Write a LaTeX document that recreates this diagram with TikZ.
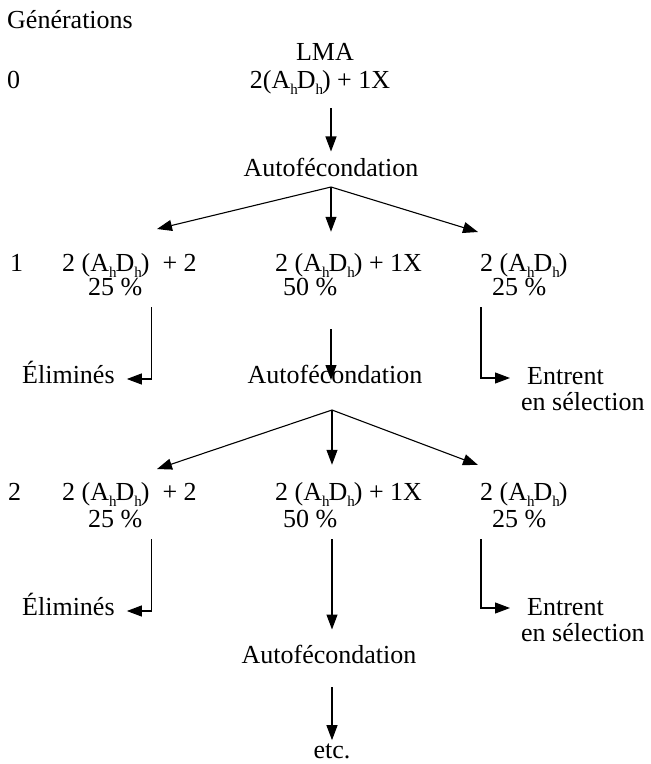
\documentclass[tikz,border=0pt]{standalone}
\usepackage{fontspec}
\setmainfont{Liberation Serif}
\usetikzlibrary{positioning,arrows.meta}
\newcommand{\hs}{\raisebox{-6pt}{\fontsize{15}{15}\selectfont h}\kern-1pt}

\begin{document}
\begin{tikzpicture}[
      x=1pt, y=-1pt,
      lbl/.style={inner sep=0pt, font=\fontsize{26}{26}\selectfont},
      arr/.style={-{Triangle[length=15pt,width=11pt]}, line width=1.1pt}
    ]
    \useasboundingbox (0,0) rectangle (651,764);

    % --- generation 0 ---
    \node[lbl, anchor=base west] (gen) at (7,28) {Générations};
    \node[lbl, anchor=base] (lma) at (325,60) {LMA};
    \node[lbl, anchor=base west] (g0) at (7,88) {0};
    \node[lbl, anchor=base] (p0) at (320,88) {2(A\hs D\hs) + 1X};
    \node[lbl, anchor=base] (auto1) at (331,176) {Autofécondation};
    \coordinate (fork1) at ([yshift=-11pt]auto1.base);

    % --- generation 1 ---
    \node[lbl, anchor=base west] (g1) at (10,271) {1};
    \node[lbl, anchor=base west] (l1) at (62,271) {2 (A\hs D\hs)\ \ + 2};
    \node[lbl, anchor=base west] (m1) at (275,271) {2 (A\hs D\hs) + 1X};
    \node[lbl, anchor=base west] (r1) at (480,271) {2 (A\hs D\hs)};
    \node[lbl, anchor=base west] (pl1) at (88,295) {25 \%};
    \node[lbl, anchor=base west] (pm1) at (283,295) {50 \%};
    \node[lbl, anchor=base west] (pr1) at (492,295) {25 \%};
    \node[lbl, anchor=base west] (el1) at (22,383) {Éliminés};
    \node[lbl, anchor=base] (auto2) at (335,383) {Autofécondation};
    \node[lbl, anchor=base west] (en1) at (527,384) {Entrent};
    \node[lbl, anchor=base west] (sel1) at ([xshift=-6pt,yshift=-26pt]en1.base west) {en sélection};
    \coordinate (fork2) at ([xshift=-3pt,yshift=-27pt]auto2.base);

    \draw[arr, shorten <=14pt, shorten >=6pt] (p0.south -| auto1) -- (auto1.north);
    \draw[arr] (fork1) -- ([xshift=95pt,yshift=42pt]l1.base west);
    \draw[arr, shorten >=21pt] (fork1) -- (fork1 |- m1.north);
    \draw[arr] (fork1) -- ([xshift=-2pt,yshift=39pt]r1.base west);
    \draw[arr] ([xshift=9pt,yshift=-12pt]pl1.base east) |- ([xshift=12pt,yshift=4pt]el1.base east);
    \draw[arr, shorten <=34pt, shorten >=3pt] (pm1.base -| fork1) -- (auto2.base -| fork1);
    \draw[arr] ([xshift=-11pt,yshift=-12pt]pr1.base west) |- ([xshift=-17pt,yshift=6pt]en1.base west);

    % --- generation 2 ---
    \node[lbl, anchor=base west] (g2) at (8,500) {2};
    \node[lbl, anchor=base west] (l2) at (62,500) {2 (A\hs D\hs)\ \ + 2};
    \node[lbl, anchor=base west] (m2) at (275,500) {2 (A\hs D\hs) + 1X};
    \node[lbl, anchor=base west] (r2) at (480,500) {2 (A\hs D\hs)};
    \node[lbl, anchor=base west] (pl2) at (88,527) {25 \%};
    \node[lbl, anchor=base west] (pm2) at (283,527) {50 \%};
    \node[lbl, anchor=base west] (pr2) at (492,527) {25 \%};
    \node[lbl, anchor=base west] (el2) at (22,615) {Éliminés};
    \node[lbl, anchor=base west] (en2) at (527,615) {Entrent};
    \node[lbl, anchor=base west] (sel2) at ([xshift=-6pt,yshift=-26pt]en2.base west) {en sélection};
    \node[lbl, anchor=base] (auto3) at (329,663) {Autofécondation};
    \node[lbl, anchor=base] (etc) at (332,758) {etc.};

    \draw[arr] (fork2) -- ([xshift=95pt,yshift=31pt]l2.base west);
    \draw[arr, shorten >=17pt] (fork2) -- (fork2 |- m2.north);
    \draw[arr] (fork2) -- ([xshift=-2pt,yshift=35pt]r2.base west);
    \draw[arr] ([xshift=9pt,yshift=-12pt]pl2.base east) |- ([xshift=12pt,yshift=4pt]el2.base east);
    \draw[arr] ([xshift=-11pt,yshift=-12pt]pr2.base west) |- ([xshift=-17pt,yshift=7pt]en2.base west);
    \draw[arr, shorten <=12pt, shorten >=15pt] (pm2.base -| fork2) -- (auto3.north -| fork2);
    \draw[arr, shorten <=24pt, shorten >=3pt] (auto3.south -| fork2) -- (etc.north -| fork2);
\end{tikzpicture}
\end{document}
